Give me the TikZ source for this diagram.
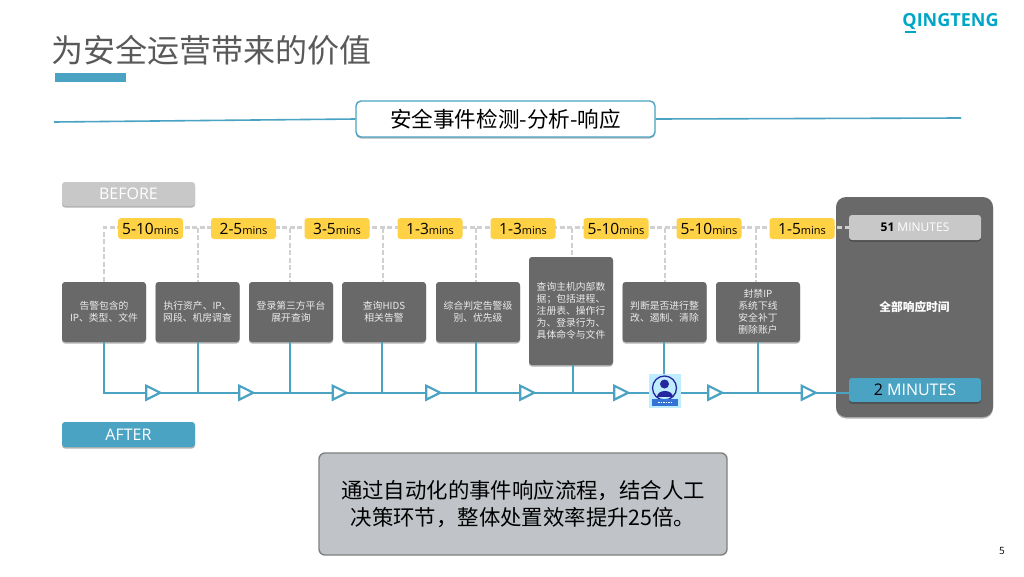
\documentclass[tikz,border=0pt]{standalone}
\usepackage{fontspec}
\setmainfont{Noto Sans CJK SC}
\newfontfamily\latin{Open Sans}
\usetikzlibrary{shadows,shapes.geometric}
\definecolor{flowblue}{HTML}{4BA3C3}
\definecolor{boxgray}{HTML}{696969}
\definecolor{palegray}{HTML}{C8C8C8}
\definecolor{waitgray}{HTML}{D0D0D0}
\definecolor{minsyellow}{HTML}{FFD145}
\definecolor{notegray}{HTML}{C0C4C8}
\definecolor{logoblue}{HTML}{00A6C6}
\newcommand{\mins}[1]{{\latin\fontsize{15.5}{15.5}\selectfont #1\fontsize{11}{11}\selectfont mins}}
\newcommand{\zhcomma}{\char"FF0C\relax}
\newcommand{\zhsemi}{\char"FF1B\relax}
\tikzset{
    softshadow/.style={drop shadow={shadow xshift=0pt, shadow yshift=-1.5pt, opacity=0.3, fill=black}},
    stepbox/.style={fill=boxgray, rounded corners=3, softshadow, text=white!92!black, minimum width=84, inner sep=0,
        font=\fontsize{9.8}{12}\selectfont, align=center},
    minsbox/.style={fill=minsyellow, rounded corners=3, minimum width=65, minimum height=21, inner sep=0, text=black,
        text height=11, text depth=0},
    tagbox/.style={rounded corners=3, softshadow, minimum width=133, minimum height=24, inner sep=0, text=white,
        font=\latin\fontsize{16}{16}\selectfont},
    flowline/.style={flowblue, line width=2.2},
    waitline/.style={waitgray, line width=2.4, dash pattern=on 5 off 2.5},
    flowmark/.style={isosceles triangle, isosceles triangle stretches, draw=flowblue, line width=2.2, fill=white,
        minimum width=14, minimum height=14, inner sep=0},
}
\begin{document}
\begin{tikzpicture}[x=1pt, y=-1pt]
    \useasboundingbox (0, 0) rectangle (1024, 576);
    \fill[white] (0, 0) rectangle (1024, 576);

    % draw heading and logo
    \node[anchor=west, inner sep=0, text=black!65, font=\fontsize{32}{32}\selectfont] (heading) at (51, 50) {为安全运营带来的价值};
    \fill[flowblue] (55, 73) rectangle (126, 82);
    \node[inner sep=0, text=logoblue, font=\latin\bfseries\fontsize{18}{18}\selectfont] (logo) at (950.5, 22) {QINGTENG};
    \draw[logoblue, line width=2] (905, 32) -- (916, 32);
    \node[inner sep=0, font=\latin\fontsize{10}{10}\selectfont] (pagenum) at (1002, 551) {5};

    % draw banner
    \coordinate (ruleL) at (54, 122);
    \coordinate (ruleR) at (961, 118);
    \node[draw=flowblue, fill=white, line width=1.4, rounded corners=5, softshadow, minimum width=299, minimum height=36,
        inner sep=0, font=\fontsize{21.6}{22}\selectfont] (banner) at (505.5, 119) {安全事件检测-分析-响应};
    \draw[flowblue, line width=1.6] (ruleL) -- (banner.west);
    \draw[flowblue, line width=1.6] (banner.east) -- (ruleR);

    % draw tags
    \node[tagbox, fill=palegray] (before) at (128.5, 194) {BEFORE};
    \node[tagbox, fill=flowblue, minimum height=25] (after) at (128.5, 434.5) {AFTER};

    % draw total panel
    \node[fill=boxgray, rounded corners=10, softshadow, minimum width=157, minimum height=220, inner sep=0, text=white,
        font=\bfseries\fontsize{11.7}{14}\selectfont] (total) at (914.5, 307) {全部响应时间};
    \node[tagbox, fill=palegray, minimum width=132, minimum height=25, font=\latin\fontsize{12}{12}\selectfont] (oldtime) at (915, 227.5)
        {\textcolor{black}{\bfseries 51} MINUTES};
    \node[tagbox, fill=flowblue, minimum width=132] (newtime) at (915, 390)
        {\textcolor{black}{2} MINUTES};

    % draw steps
    \foreach \i/\cx/\lx/\dx/\txt in {
        1/104/104/104/{告警包含的\\IP、类型、文件},
        2/197.5/197.7/197.7/{执行资产、IP、\\网段、机房调查},
        3/291/290/290/{登录第三方平台\\展开查询},
        4/384/382/383/{查询HIDS\\相关告警},
        5/478/476.3/476/{综合判定告警级\\别、优先级},
        7/664.5/664.3/665/{判断是否进行整\\改、遏制、清除},
        8/758/758/756/{封禁IP\\系统下线\\安全补丁\\删除账户}} {
        \node[stepbox, minimum height=60] (step\i) at (\cx, 312) {\txt};
        \coordinate (up\i) at (\dx, 227.5);
        \coordinate (down\i) at (\lx, 392.7);
    }
    \node[stepbox, minimum height=108, align=left] (step6) at (571, 311)
        {查询主机内部数\\据\zhsemi 包括进程、\\注册表、操作行\\为、登录行为、\\具体命令与文件};
    \coordinate (up6) at (571.7, 227.5);
    \coordinate (down6) at (573, 392.7);

    % draw waiting times
    \draw[waitline] (up1 |- step1.north) -- (up1) -- (oldtime.west |- up1);
    \foreach \i in {2, ..., 8} {
        \draw[waitline] (up\i) -- (up\i |- step\i.north);
    }
    \foreach \i/\cx/\txt in {1/150.5/5-10, 2/243.5/2-5, 3/337/3-5, 4/430/1-3, 5/523/1-3, 6/616/5-10, 7/709/5-10, 8/802/1-5} {
        \node[minsbox] (mins\i) at (\cx, 228.5) {\mins{\txt}};
    }

    % draw flow
    \draw[flowline] (down1 |- step1.south) -- (down1) -- (newtime.west |- down1);
    \foreach \i in {2, ..., 8} {
        \draw[flowline] (down\i |- step\i.south) -- (down\i);
    }
    \foreach \i/\x in {1/150.5, 2/243.5, 3/337, 4/430.5, 5/524.5, 6/618.5, 7/712.5, 8/806} {
        \node[flowmark] (mark\i) at (\x, 392.7) {};
    }

    % draw operator icon
    \node[fill=blue!30!cyan!25, minimum width=32, minimum height=34, inner sep=0] (operator) at (665, 391) {};
    \draw[blue!55!black!85, line width=1.3] (664.5, 388) circle (12);
    \fill[blue!55!black!85] (664.5, 384) circle (4.5);
    \fill[blue!55!black!85] (656.5, 397) .. controls (656.5, 389) and (672.5, 389) .. (672.5, 397) -- cycle;
    \fill[flowblue!70!blue] (652, 399) rectangle (678, 406);
    \draw[white, line width=1, dash pattern=on 1.5 off 1] (658, 402.5) -- (672, 402.5);

    % draw summary
    \node[fill=notegray, draw=gray, line width=1.4, rounded corners=6, minimum width=408, minimum height=102, inner sep=0,
        align=center, font=\fontsize{21.4}{27}\selectfont] (summary) at (523, 504)
        {通过自动化的事件响应流程\zhcomma 结合人工\\决策环节\zhcomma 整体处置效率提升25倍。};
\end{tikzpicture}
\end{document}
